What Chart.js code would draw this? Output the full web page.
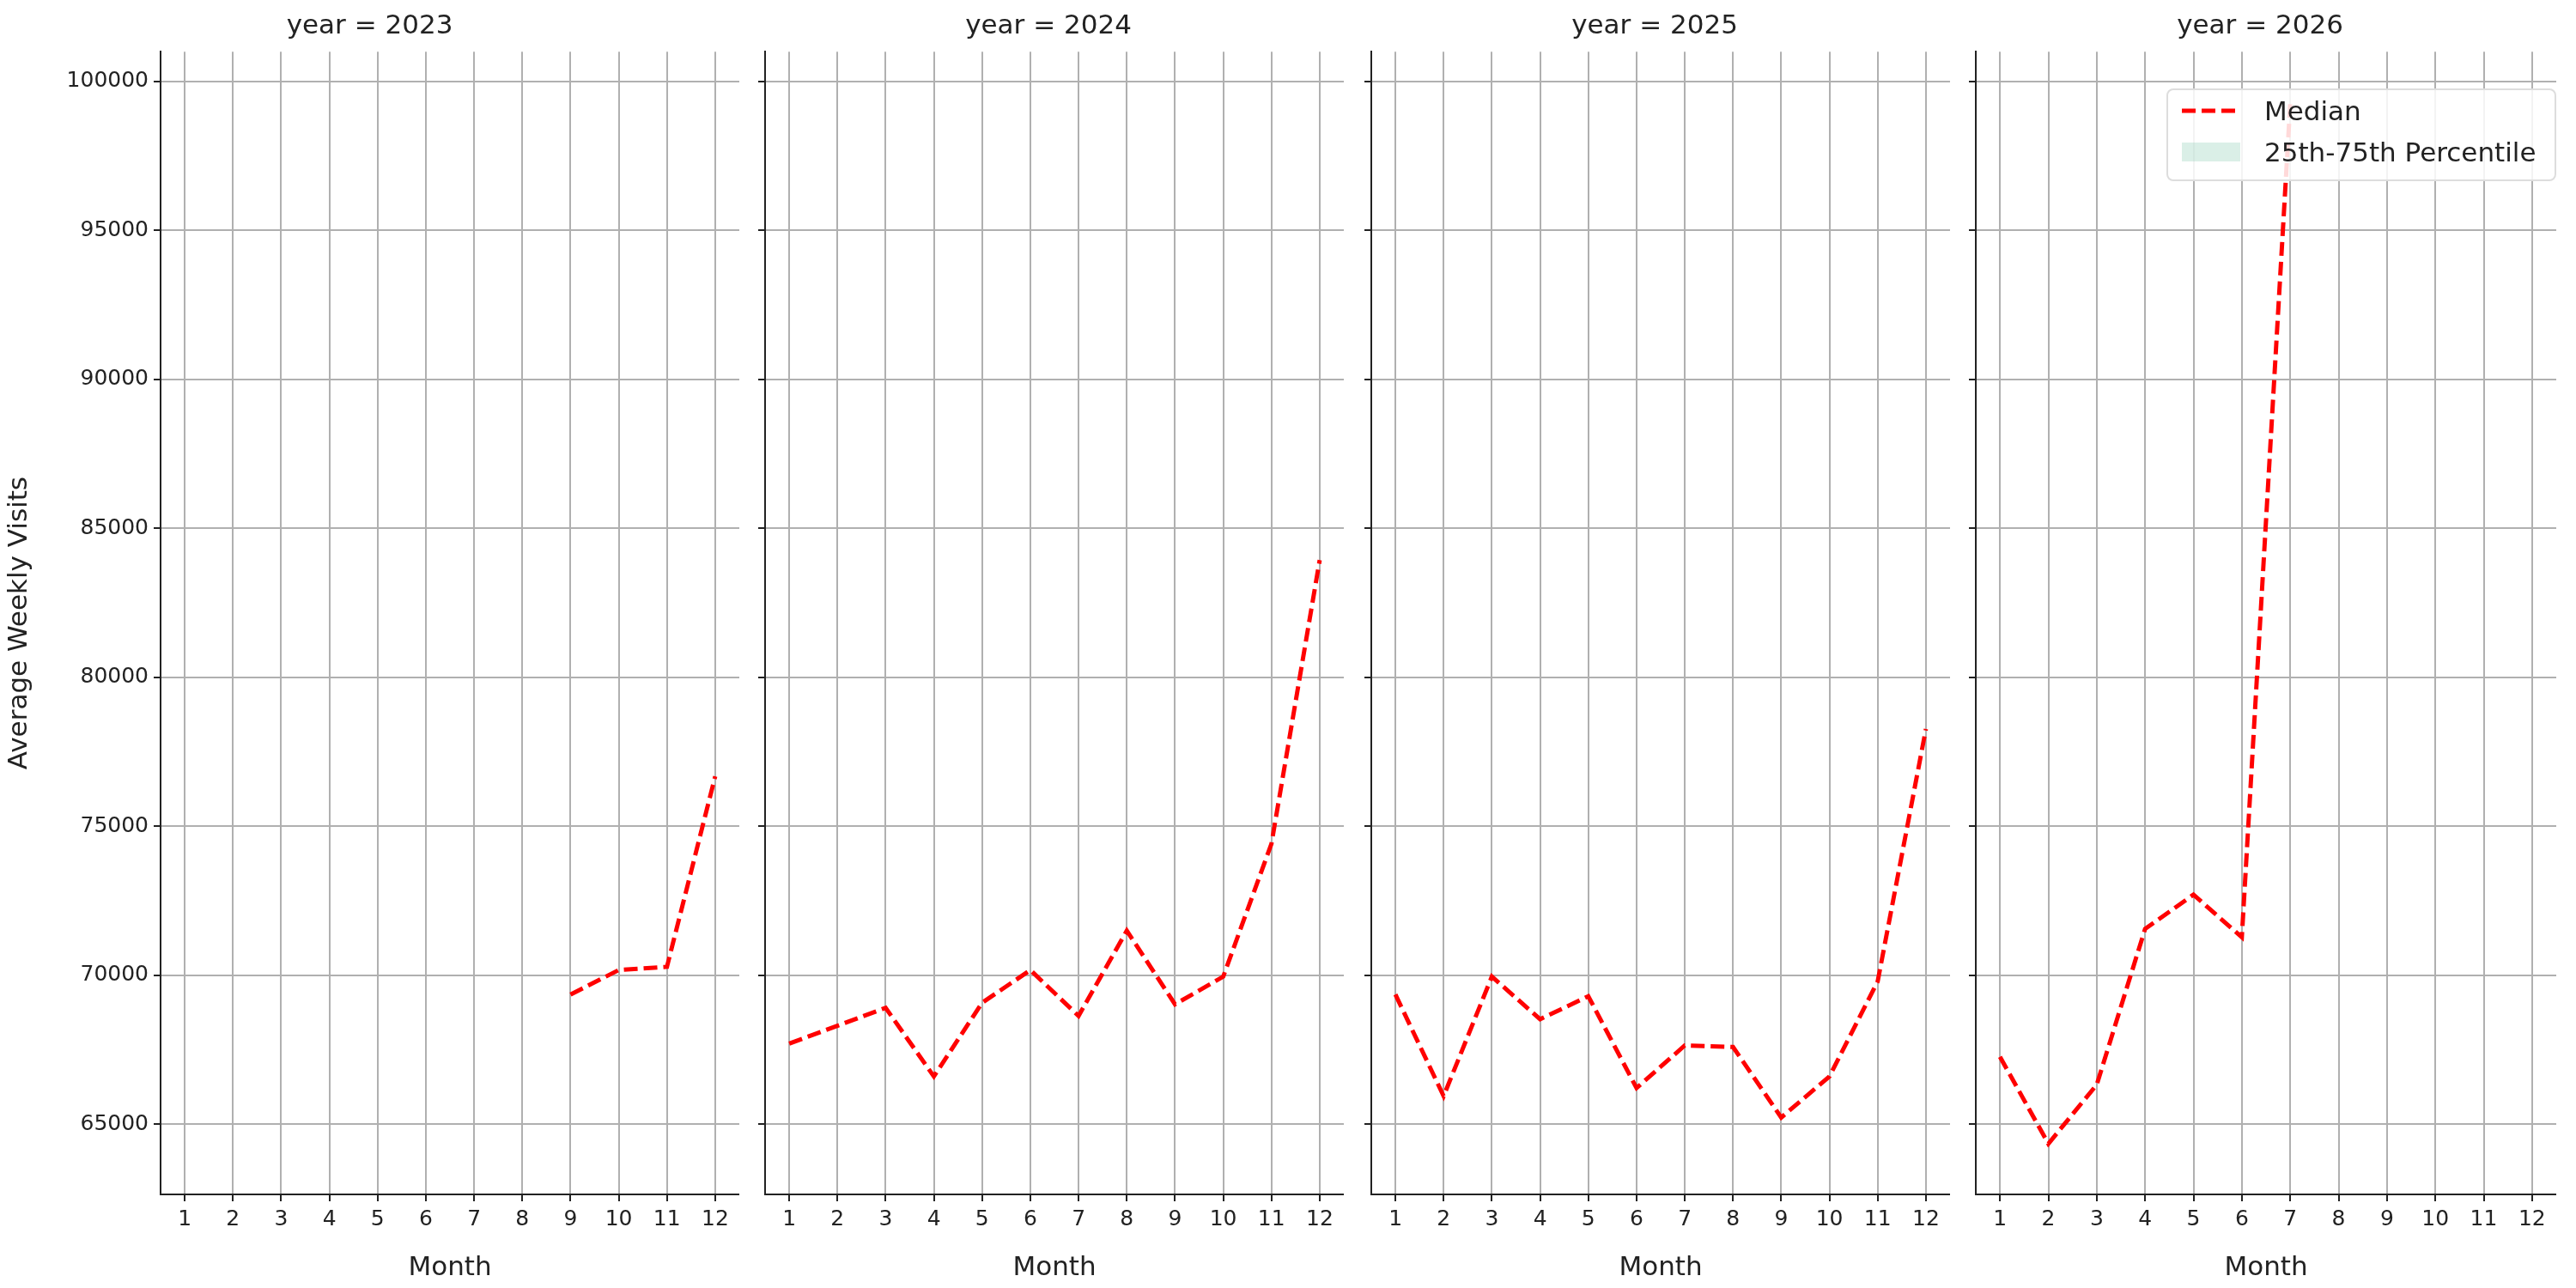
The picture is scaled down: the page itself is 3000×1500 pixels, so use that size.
<!DOCTYPE html>
<html><head><meta charset="utf-8">
<script src="https://cdn.jsdelivr.net/npm/chart.js@4/dist/chart.umd.min.js"></script>
<style>
body{margin:0;width:3000px;height:1500px;background:#fff;font-family:"DejaVu Sans",sans-serif;position:relative;overflow:hidden}
canvas{position:absolute}
#legend{position:absolute;left:2523px;top:103px;width:454px;height:108px;border:2px solid #ddd;border-radius:8px;background:rgba(255,255,255,0.85);font-size:31px;color:#222;box-sizing:border-box;z-index:5}
.row{position:absolute;left:14px;display:flex;align-items:center}
</style></head><body>
<div id="legend">
 <div class="row" style="top:6px"><svg width="72" height="20"><line x1="2" y1="10" x2="70" y2="10" stroke="#ff0000" stroke-width="5" stroke-dasharray="16,7"/></svg><span style="margin-left:26px">Median</span></div>
 <div class="row" style="top:54px"><svg width="72" height="26"><rect x="2" y="2" width="68" height="22" fill="rgba(150,210,185,0.35)"/></svg><span style="margin-left:26px">25th-75th Percentile</span></div>
</div>
<script>
const months = ["1","2","3","4","5","6","7","8","9","10","11","12"];
const years = ["2023","2024","2025","2026"];
const median2023 = [null,null,null,null,null,null,null,null,69350,70170,70280,76670];
const median2024 = [67700,68300,68900,66600,69070,70170,68630,71490,69020,69950,74410,83930];
const median2025 = [69350,65940,69950,68520,69290,66210,67640,67590,65220,66600,69790,78260];
const median2026 = [67260,64340,66320,71550,72700,71270,99230,null,null,null,null,null];
const series = [median2023, median2024, median2025, median2026];
const yMin = 62640, yMax = 100990;
const plotLeft = [187, 891, 1597, 2301], plotRight = [861, 1565, 2271, 2977];
const plotBottom = 1391;
Chart.defaults.font.family = "DejaVu Sans";
Chart.defaults.color = "#222";
series.forEach((data, i) => {
  const first = i === 0;
  const yW = first ? 187 : 14;
  const left = plotLeft[i] - yW;
  const w = plotRight[i] - left;
  const c = document.createElement('canvas');
  c.style.left = left + 'px'; c.style.top = '0px';
  c.style.width = w + 'px'; c.style.height = '1500px';
  c.width = w; c.height = 1500;
  document.body.appendChild(c);
  new Chart(c, {
    type: 'line',
    data: { labels: months, datasets: [{ data, borderColor: '#ff0000', borderWidth: 5, borderDash: [16, 7], pointRadius: 0, fill: false, spanGaps: false, tension: 0 }] },
    options: {
      responsive: false, animation: false, devicePixelRatio: 1,
      layout: { padding: 0 },
      plugins: { legend: { display: false }, tooltip: { enabled: false },
        title: { display: true, text: 'year = ' + years[i], font: { size: 31, weight: 'normal' }, color: '#222', padding: { top: 12, bottom: 11 } } },
      scales: {
        x: { type: 'category', offset: true,
          grid: { offset: false, color: '#b0b0b0', lineWidth: 2, drawTicks: true, tickLength: 8, tickColor: '#222' },
          border: { color: '#222', width: 2 },
          ticks: { font: { size: 25 }, color: '#222', maxRotation: 0, autoSkip: false, padding: 6 },
          title: { display: true, text: 'Month', font: { size: 31 }, color: '#222', padding: { top: 4 } },
          afterFit: s => { s.height = 1500 - plotBottom; } },
        y: { min: yMin, max: yMax,
          afterBuildTicks: s => { s.ticks = [65000,70000,75000,80000,85000,90000,95000,100000].map(v => ({ value: v })); },
          grid: { color: '#b0b0b0', lineWidth: 2, tickLength: 8, tickColor: '#222' },
          border: { color: '#222', width: 2 },
          ticks: { display: first, font: { size: 25 }, color: '#222', padding: 6, callback: v => String(v) },
          title: { display: first, text: 'Average Weekly Visits', font: { size: 31 }, color: '#222' },
          afterFit: s => { s.width = yW; } }
      }
    }
  });
});
</script></body></html>
